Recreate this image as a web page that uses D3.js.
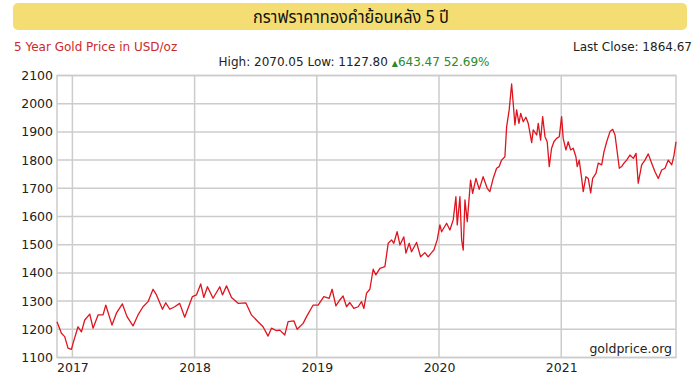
<!DOCTYPE html>
<html>
<head>
<meta charset="utf-8">
<script src="https://cdn.jsdelivr.net/npm/d3@7"></script>
<style>
  html, body { margin: 0; padding: 0; background: #fff; }
  #chart { width: 700px; height: 386px; }
  text { font-family: "DejaVu Sans", Verdana, sans-serif; }
</style>
</head>
<body>
<div id="chart"></div>
<script>
// decimal years, with the price at each point
const years = [
  2016.874, 2016.910, 2016.937, 2016.964, 2016.992, 2017.005, 2017.046, 2017.074, 2017.101, 2017.142,
  2017.169, 2017.210, 2017.251, 2017.273, 2017.324, 2017.360, 2017.409, 2017.447, 2017.496, 2017.537,
  2017.578, 2017.619, 2017.660, 2017.688, 2017.737, 2017.764, 2017.797, 2017.837, 2017.878, 2017.919,
  2017.982, 2018.015, 2018.050, 2018.075, 2018.105, 2018.151, 2018.206, 2018.228, 2018.261, 2018.302,
  2018.356, 2018.419, 2018.465, 2018.519, 2018.560, 2018.601, 2018.629, 2018.670, 2018.697, 2018.738,
  2018.765, 2018.812, 2018.839, 2018.888, 2018.916, 2018.970, 2019.011, 2019.057, 2019.101, 2019.125,
  2019.156, 2019.188, 2019.215, 2019.243, 2019.270, 2019.303, 2019.338, 2019.366, 2019.385, 2019.407,
  2019.434, 2019.461, 2019.483, 2019.516, 2019.557, 2019.584, 2019.612, 2019.630, 2019.657, 2019.680,
  2019.712, 2019.729, 2019.756, 2019.775, 2019.816, 2019.849, 2019.884, 2019.911, 2019.939, 2019.958,
  2019.985, 2020.007, 2020.021, 2020.062, 2020.089, 2020.116, 2020.138, 2020.149, 2020.171, 2020.185,
  2020.198, 2020.212, 2020.231, 2020.258, 2020.275, 2020.302, 2020.329, 2020.361, 2020.394, 2020.416,
  2020.443, 2020.471, 2020.492, 2020.512, 2020.539, 2020.553, 2020.574, 2020.594, 2020.607, 2020.621,
  2020.635, 2020.654, 2020.668, 2020.689, 2020.711, 2020.730, 2020.758, 2020.771, 2020.799, 2020.812,
  2020.831, 2020.848, 2020.867, 2020.885, 2020.902, 2020.921, 2020.940, 2020.962, 2020.984, 2021.003,
  2021.016, 2021.038, 2021.057, 2021.077, 2021.098, 2021.120, 2021.131, 2021.147, 2021.167, 2021.180,
  2021.202, 2021.221, 2021.241, 2021.257, 2021.284, 2021.303, 2021.331, 2021.350, 2021.372, 2021.399,
  2021.421, 2021.440, 2021.454, 2021.475, 2021.494, 2021.513, 2021.535, 2021.562, 2021.590, 2021.612,
  2021.630, 2021.658, 2021.685, 2021.712, 2021.740, 2021.767, 2021.794, 2021.822, 2021.849, 2021.876,
  2021.904, 2021.923, 2021.939
];

const prices = [
  1227, 1186, 1174, 1133, 1129, 1150, 1209, 1191, 1233, 1254,
  1204, 1251, 1251, 1286, 1215, 1257, 1290, 1245, 1212, 1251,
  1280, 1298, 1342, 1322, 1271, 1294, 1271, 1280, 1292, 1243,
  1316, 1322, 1361, 1313, 1351, 1310, 1351, 1322, 1354, 1313,
  1292, 1294, 1251, 1227, 1209, 1176, 1204, 1195, 1197, 1180,
  1227, 1230, 1200, 1221, 1245, 1286, 1286, 1316, 1310, 1342,
  1283, 1304, 1318, 1280, 1295, 1274, 1280, 1298, 1274, 1328,
  1342, 1413, 1393, 1416, 1422, 1505, 1517, 1505, 1546, 1499,
  1528, 1470, 1505, 1475, 1508, 1457, 1472, 1457, 1472, 1481,
  1517, 1570, 1546, 1576, 1552, 1588, 1670, 1570, 1670, 1517,
  1481, 1659, 1582, 1729, 1682, 1735, 1696, 1741, 1700, 1688,
  1735, 1771, 1777, 1800, 1812, 1918, 1978, 2070, 2001, 1925,
  1978, 1930, 1966, 1936, 1952, 1930, 1862, 1907, 1889, 1930,
  1871, 1954, 1883, 1865, 1777, 1842, 1865, 1877, 1883, 1954,
  1877, 1836, 1865, 1836, 1842, 1812, 1777, 1800, 1735, 1688,
  1741, 1735, 1684, 1735, 1753, 1789, 1783, 1830, 1865, 1901,
  1909, 1889, 1842, 1771, 1777, 1789, 1800, 1818, 1806, 1824,
  1718, 1783, 1800, 1822, 1789, 1759, 1735, 1765, 1771, 1800,
  1783, 1818, 1865
];

const yearTicks = [2017, 2018, 2019, 2020, 2021];
const priceTicks = [1100, 1200, 1300, 1400, 1500, 1600, 1700, 1800, 1900, 2000, 2100];

const titleText = 'กราฟราคาทองคำย้อนหลัง 5 ปี';
const subtitleText = '5 Year Gold Price in USD/oz';
const lastCloseText = 'Last Close: 1864.67';
const rangeText = 'High: 2070.05 Low: 1127.80 ';
const changeText = '643.47 52.69%';

const width = 700;
const height = 386;
const plot = { left: 57, right: 676, top: 75.5, bottom: 357.5 };
const gridColor = '#cccccc';
const lineColor = '#e0141e';

const svg = d3.select('#chart')
  .append('svg')
  .attr('width', width)
  .attr('height', height)
  .attr('viewBox', `0 0 ${width} ${height}`);

const x = d3.scaleLinear()
  .domain([years[0], years[years.length - 1]])
  .range([plot.left, plot.right]);

const y = d3.scaleLinear()
  .domain([1100, 2100])
  .range([plot.bottom, plot.top]);

// header
svg.append('rect')
  .attr('x', 13)
  .attr('y', 3)
  .attr('width', 674)
  .attr('height', 27)
  .attr('rx', 5)
  .attr('fill', '#f4de74');

svg.append('text')
  .attr('x', 351)
  .attr('y', 23)
  .attr('text-anchor', 'middle')
  .attr('font-size', 18)
  .attr('fill', '#111')
  .attr('textLength', 196)
  .attr('lengthAdjust', 'spacingAndGlyphs')
  .style('font-family', '"Noto Sans Thai", "Noto Sans", "DejaVu Sans", sans-serif')
  .text(titleText);

svg.append('text')
  .attr('x', 14)
  .attr('y', 51)
  .attr('font-size', 12)
  .attr('fill', '#cc2a2a')
  .text(subtitleText);

svg.append('text')
  .attr('x', 692)
  .attr('y', 51)
  .attr('text-anchor', 'end')
  .attr('font-size', 12)
  .attr('fill', '#222')
  .text(lastCloseText);

const rangeLine = svg.append('text')
  .attr('x', 354)
  .attr('y', 65.5)
  .attr('text-anchor', 'middle')
  .attr('font-size', 12)
  .attr('fill', '#222');

rangeLine.append('tspan').text(rangeText);
rangeLine.append('tspan').attr('fill', '#2b8a2b').attr('font-size', 8).text('▲');
rangeLine.append('tspan').attr('fill', '#2b8a2b').text(changeText);

// grid
const grid = svg.append('g').attr('class', 'grid');

grid.selectAll('.hgrid')
  .data(priceTicks)
  .join('line')
  .attr('x1', plot.left)
  .attr('x2', plot.right)
  .attr('y1', d => y(d))
  .attr('y2', d => y(d))
  .attr('stroke', gridColor)
  .attr('stroke-width', 1.5);

grid.selectAll('.vgrid')
  .data(yearTicks)
  .join('line')
  .attr('x1', d => x(d))
  .attr('x2', d => x(d))
  .attr('y1', plot.top)
  .attr('y2', plot.bottom)
  .attr('stroke', gridColor)
  .attr('stroke-width', 1.5);

grid.append('rect')
  .attr('x', plot.left)
  .attr('y', plot.top)
  .attr('width', plot.right - plot.left)
  .attr('height', plot.bottom - plot.top)
  .attr('fill', 'none')
  .attr('stroke', gridColor)
  .attr('stroke-width', 1.5);

// axes, drawn without domain/ticks: just the labels
const yAxis = svg.append('g')
  .attr('transform', `translate(${plot.left},0)`)
  .call(d3.axisLeft(y).tickValues(priceTicks).tickSize(0).tickPadding(4).tickFormat(d3.format('d')));

const xAxis = svg.append('g')
  .attr('transform', `translate(0,${plot.bottom})`)
  .call(d3.axisBottom(x).tickValues(yearTicks).tickSize(0).tickPadding(6).tickFormat(d3.format('d')));

[yAxis, xAxis].forEach(axis => {
  axis.select('.domain').remove();
  axis.selectAll('text')
    .attr('font-size', 12.5)
    .attr('fill', '#222')
    .style('font-family', '"DejaVu Sans", Verdana, sans-serif');
});

// price line
const points = years.map((t, i) => ({ t, v: prices[i] }));

const line = d3.line()
  .x(d => x(d.t))
  .y(d => y(d.v));

svg.append('path')
  .datum(points)
  .attr('fill', 'none')
  .attr('stroke', lineColor)
  .attr('stroke-width', 1.3)
  .attr('stroke-linejoin', 'round')
  .attr('d', line);

svg.append('text')
  .attr('x', 672)
  .attr('y', 353)
  .attr('text-anchor', 'end')
  .attr('font-size', 12.5)
  .attr('fill', '#222')
  .text('goldprice.org');
</script>
</body>
</html>
